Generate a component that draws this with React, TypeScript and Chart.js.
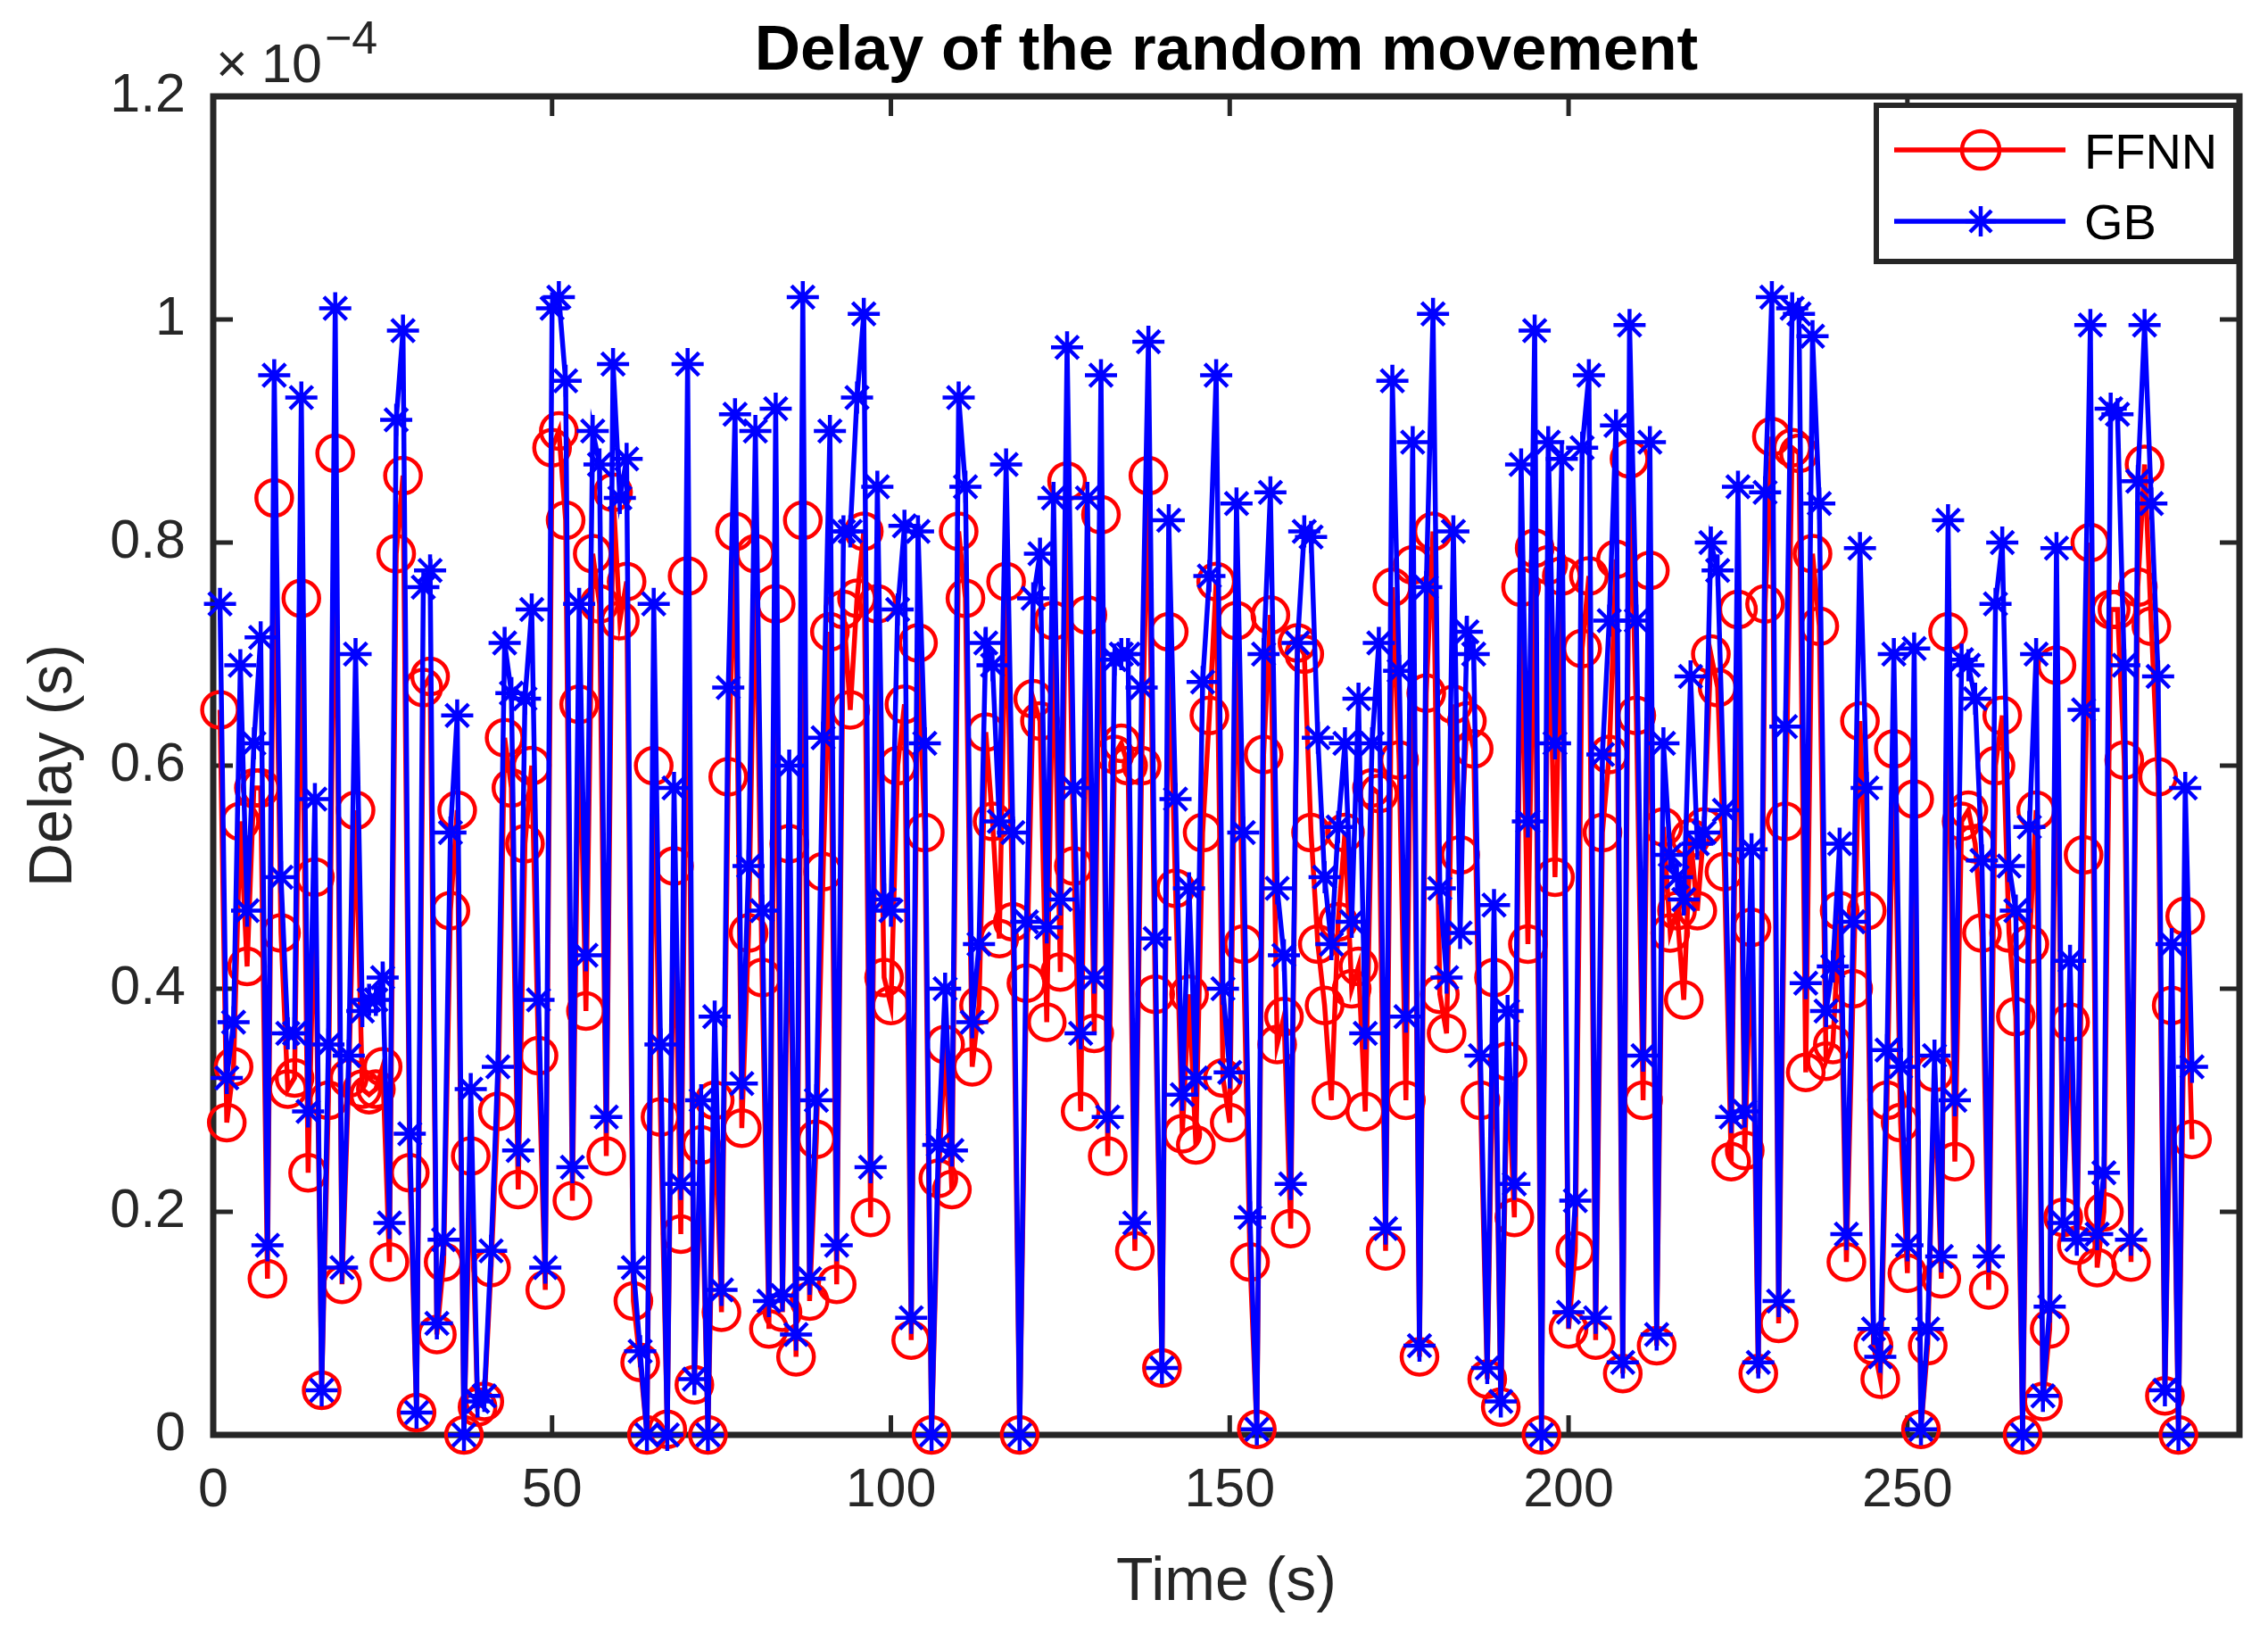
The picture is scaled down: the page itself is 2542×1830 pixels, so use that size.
import React, { useEffect, useRef } from 'react';
import { Chart, registerables } from 'chart.js';

Chart.register(...registerables);

// values are in units of 1e-4 s (the axis shows "x10^-4")
const X_TICKS = [0, 50, 100, 150, 200, 250];
const Y_TICKS = [0, 0.2, 0.4, 0.6, 0.8, 1, 1.2];
const TIME_MAX = 299;

const DELAY_FFNN = [
  0.65, 0.28, 0.33, 0.55, 0.42, 0.58, 0.58, 0.14, 0.84, 0.45,
  0.31, 0.32, 0.75, 0.235, 0.5, 0.04, 0.3, 0.88, 0.135, 0.32,
  0.56, 0.31, 0.305, 0.31, 0.33, 0.155, 0.79, 0.86, 0.235, 0.02,
  0.67, 0.68, 0.09, 0.155, 0.47, 0.56, 0, 0.25, 0.025, 0.03,
  0.15, 0.29, 0.625, 0.58, 0.22, 0.53, 0.6, 0.34, 0.13, 0.885,
  0.9, 0.82, 0.21, 0.655, 0.38, 0.79, 0.745, 0.25, 0.845, 0.73,
  0.765, 0.12, 0.065, 0, 0.6, 0.285, 0.005, 0.51, 0.18, 0.77,
  0.045, 0.26, 0, 0.3, 0.11, 0.59, 0.81, 0.275, 0.45, 0.79,
  0.41, 0.095, 0.745, 0.11, 0.53, 0.07, 0.82, 0.12, 0.265, 0.505,
  0.72, 0.135, 0.74, 0.65, 0.75, 0.81, 0.195, 0.745, 0.41, 0.385,
  0.6, 0.655, 0.085, 0.71, 0.54, 0, 0.23, 0.35, 0.22, 0.81,
  0.75, 0.33, 0.385, 0.63, 0.55, 0.445, 0.765, 0.46, 0, 0.405,
  0.66, 0.64, 0.37, 0.73, 0.415, 0.855, 0.51, 0.29, 0.735, 0.36,
  0.825, 0.25, 0.61, 0.62, 0.6, 0.165, 0.6, 0.86, 0.395, 0.06,
  0.72, 0.49, 0.27, 0.395, 0.26, 0.54, 0.645, 0.765, 0.32, 0.28,
  0.73, 0.44, 0.155, 0.005, 0.61, 0.735, 0.35, 0.375, 0.185, 0.71,
  0.7, 0.54, 0.44, 0.385, 0.3, 0.46, 0.54, 0.4, 0.42, 0.29,
  0.58, 0.575, 0.165, 0.76, 0.605, 0.3, 0.78, 0.07, 0.665, 0.81,
  0.395, 0.36, 0.655, 0.52, 0.64, 0.615, 0.3, 0.05, 0.41, 0.025,
  0.335, 0.195, 0.76, 0.44, 0.795, 0, 0.78, 0.5, 0.77, 0.095,
  0.165, 0.705, 0.77, 0.085, 0.54, 0.61, 0.785, 0.055, 0.875, 0.645,
  0.3, 0.775, 0.08, 0.545, 0.45, 0.47, 0.39, 0.535, 0.47, 0.545,
  0.7, 0.67, 0.505, 0.245, 0.74, 0.255, 0.455, 0.055, 0.745, 0.895,
  0.1, 0.55, 0.885, 0.88, 0.325, 0.79, 0.725, 0.335, 0.35, 0.47,
  0.155, 0.4, 0.64, 0.47, 0.08, 0.05, 0.3, 0.615, 0.28, 0.145,
  0.57, 0.005, 0.08, 0.325, 0.14, 0.72, 0.245, 0.55, 0.56, 0.53,
  0.45, 0.13, 0.6, 0.645, 0.45, 0.375, 0, 0.44, 0.56, 0.03,
  0.095, 0.69, 0.195, 0.37, 0.17, 0.52, 0.8, 0.15, 0.2, 0.74,
  0.74, 0.605, 0.155, 0.76, 0.87, 0.725, 0.59, 0.035, 0.385, 0,
  0.465, 0.265,
];

const DELAY_GB = [
  0.745, 0.32, 0.37, 0.69, 0.47, 0.62, 0.715, 0.17, 0.95, 0.5,
  0.36, 0.36, 0.93, 0.29, 0.57, 0.04, 0.35, 1.01, 0.15, 0.34,
  0.7, 0.38, 0.39, 0.39, 0.41, 0.19, 0.91, 0.99, 0.27, 0.02,
  0.76, 0.775, 0.1, 0.175, 0.54, 0.645, 0, 0.31, 0.03, 0.035,
  0.165, 0.33, 0.71, 0.665, 0.255, 0.66, 0.74, 0.39, 0.15, 1.01,
  1.02, 0.945, 0.24, 0.745, 0.43, 0.9, 0.87, 0.285, 0.96, 0.84,
  0.875, 0.15, 0.075, 0, 0.745, 0.35, 0, 0.58, 0.225, 0.96,
  0.05, 0.3, 0, 0.375, 0.13, 0.67, 0.915, 0.315, 0.51, 0.9,
  0.47, 0.12, 0.92, 0.125, 0.6, 0.09, 1.02, 0.14, 0.3, 0.625,
  0.9, 0.17, 0.81, 0.81, 0.93, 1.005, 0.24, 0.85, 0.48, 0.47,
  0.74, 0.815, 0.105, 0.81, 0.62, 0, 0.26, 0.4, 0.255, 0.93,
  0.85, 0.37, 0.44, 0.71, 0.69, 0.55, 0.87, 0.54, 0, 0.46,
  0.75, 0.79, 0.455, 0.84, 0.48, 0.975, 0.58, 0.36, 0.84, 0.41,
  0.95, 0.285, 0.695, 0.7, 0.7, 0.19, 0.67, 0.98, 0.445, 0.06,
  0.82, 0.57, 0.305, 0.49, 0.32, 0.675, 0.77, 0.95, 0.4, 0.325,
  0.835, 0.54, 0.195, 0.005, 0.7, 0.845, 0.49, 0.43, 0.225, 0.71,
  0.81, 0.805, 0.625, 0.5, 0.44, 0.545, 0.62, 0.46, 0.66, 0.36,
  0.62, 0.71, 0.185, 0.945, 0.685, 0.375, 0.89, 0.08, 0.76, 1.005,
  0.49, 0.41, 0.81, 0.45, 0.72, 0.7, 0.34, 0.06, 0.475, 0.03,
  0.38, 0.225, 0.87, 0.55, 0.99, 0, 0.89, 0.62, 0.875, 0.11,
  0.21, 0.885, 0.95, 0.105, 0.61, 0.73, 0.905, 0.065, 0.995, 0.73,
  0.34, 0.89, 0.09, 0.62, 0.52, 0.5, 0.48, 0.68, 0.53, 0.54,
  0.8, 0.775, 0.56, 0.285, 0.85, 0.29, 0.525, 0.065, 0.845, 1.02,
  0.12, 0.635, 1.01, 1.005, 0.405, 0.985, 0.835, 0.38, 0.42, 0.53,
  0.18, 0.46, 0.795, 0.58, 0.095, 0.07, 0.345, 0.7, 0.33, 0.17,
  0.705, 0.005, 0.095, 0.34, 0.16, 0.82, 0.3, 0.695, 0.69, 0.66,
  0.515, 0.16, 0.745, 0.8, 0.51, 0.47, 0, 0.545, 0.7, 0.035,
  0.115, 0.795, 0.19, 0.425, 0.175, 0.65, 0.995, 0.18, 0.235, 0.92,
  0.915, 0.69, 0.175, 0.855, 0.995, 0.835, 0.68, 0.04, 0.44, 0,
  0.58, 0.33,
];

const TIME = DELAY_GB.map((_, i) => i + 1);

const FONT = '"Liberation Sans", Arial, Helvetica, sans-serif';
const AXIS_COLOR = '#262626';
const RED = '#FF0000';
const BLUE = '#0000FF';

const W = 2542;
const H = 1830;

const framePlugin = {
  id: 'matlabFrame',
  beforeDatasetsDraw(chart: any) {
    const { ctx, chartArea: a, scales } = chart;
    ctx.save();
    ctx.strokeStyle = AXIS_COLOR;
    ctx.lineWidth = 5;
    const len = 22;
    X_TICKS.forEach((v) => {
      const px = scales.x.getPixelForValue(v);
      ctx.beginPath();
      ctx.moveTo(px, a.bottom);
      ctx.lineTo(px, a.bottom - len);
      ctx.moveTo(px, a.top);
      ctx.lineTo(px, a.top + len);
      ctx.stroke();
    });
    Y_TICKS.forEach((v) => {
      const py = scales.y.getPixelForValue(v);
      ctx.beginPath();
      ctx.moveTo(a.left, py);
      ctx.lineTo(a.left + len, py);
      ctx.moveTo(a.right, py);
      ctx.lineTo(a.right - len, py);
      ctx.stroke();
    });
    ctx.lineWidth = 7;
    ctx.strokeRect(a.left, a.top, a.right - a.left, a.bottom - a.top);
    ctx.restore();
  },
  afterDraw(chart: any) {
    const { ctx, chartArea: a } = chart;
    const cx = (a.left + a.right) / 2;
    const cy = (a.top + a.bottom) / 2;
    ctx.save();

    // title
    ctx.fillStyle = '#000';
    ctx.textAlign = 'center';
    ctx.textBaseline = 'alphabetic';
    ctx.font = `bold 71px ${FONT}`;
    ctx.fillText('Delay of the random movement', cx, 78);

    // axis labels
    ctx.fillStyle = AXIS_COLOR;
    ctx.font = `68px ${FONT}`;
    ctx.fillText('Time (s)', cx, 1793);
    ctx.save();
    ctx.translate(80, cy);
    ctx.rotate(-Math.PI / 2);
    ctx.fillText('Delay (s)', 0, 0);
    ctx.restore();

    // exponent
    ctx.textAlign = 'left';
    ctx.font = `61px ${FONT}`;
    ctx.fillText('\u00d7', 242, 92);
    ctx.fillText('10', 293, 92);
    ctx.font = `52px ${FONT}`;
    ctx.fillText('\u22124', 364, 60);

    // legend
    const lx = 2103, ly = 118, lw = 403, lh = 175;
    ctx.fillStyle = '#fff';
    ctx.fillRect(lx, ly, lw, lh);
    ctx.strokeStyle = AXIS_COLOR;
    ctx.lineWidth = 6;
    ctx.strokeRect(lx, ly, lw, lh);

    const rows = [
      { label: 'FFNN', color: RED, y: 168, base: 189, marker: 'circle' },
      { label: 'GB', color: BLUE, y: 248, base: 268, marker: 'star' },
    ];
    rows.forEach((r) => {
      ctx.strokeStyle = r.color;
      ctx.lineWidth = 5.5;
      ctx.beginPath();
      ctx.moveTo(2123, r.y);
      ctx.lineTo(2315, r.y);
      ctx.stroke();
      ctx.lineWidth = 4.5;
      ctx.beginPath();
      if (r.marker === 'circle') {
        ctx.arc(2220, r.y, 21, 0, Math.PI * 2);
      } else {
        const s = 17;
        for (let k = 0; k < 4; k++) {
          const ang = (k * Math.PI) / 4;
          ctx.moveTo(2220 - s * Math.cos(ang), r.y - s * Math.sin(ang));
          ctx.lineTo(2220 + s * Math.cos(ang), r.y + s * Math.sin(ang));
        }
      }
      ctx.stroke();
      ctx.fillStyle = '#000';
      ctx.font = `56px ${FONT}`;
      ctx.textAlign = 'left';
      ctx.fillText(r.label, 2336, r.base);
    });

    ctx.restore();
  },
};

const DelayChart = () => {
  const canvasRef = useRef<HTMLCanvasElement>(null);

  useEffect(() => {
    if (!canvasRef.current) return;
    const ctx = canvasRef.current.getContext('2d');
    if (!ctx) return;

    const chart = new Chart(ctx, {
      type: 'line',
      data: {
        datasets: [
          {
            label: 'FFNN',
            data: TIME.map((t, i) => ({ x: t, y: DELAY_FFNN[i] })),
            borderColor: RED,
            borderWidth: 5.5,
            pointStyle: 'circle',
            pointRadius: 20,
            pointBorderWidth: 4.5,
            pointBorderColor: RED,
            pointBackgroundColor: 'rgba(0,0,0,0)',
            tension: 0,
            clip: false,
            order: 1,
          },
          {
            label: 'GB',
            data: TIME.map((t, i) => ({ x: t, y: DELAY_GB[i] })),
            borderColor: BLUE,
            borderWidth: 5.5,
            pointStyle: 'star',
            pointRadius: 18,
            pointBorderWidth: 4.5,
            pointBorderColor: BLUE,
            pointBackgroundColor: BLUE,
            tension: 0,
            clip: false,
            order: 0,
          },
        ],
      },
      options: {
        animation: false,
        responsive: false,
        devicePixelRatio: 1,
        events: [],
        layout: { padding: { top: 108, right: 32, left: 0, bottom: 0 } },
        plugins: {
          legend: { display: false },
          title: { display: false },
          tooltip: { enabled: false },
        },
        scales: {
          x: {
            type: 'linear',
            min: 0,
            max: TIME_MAX,
            afterBuildTicks: (s: any) => {
              s.ticks = X_TICKS.map((v) => ({ value: v }));
            },
            afterFit: (s: any) => {
              s.height = H - 1608;
            },
            ticks: {
              font: { family: FONT, size: 61 },
              color: AXIS_COLOR,
              padding: 27,
              maxRotation: 0,
              autoSkip: false,
              callback: (v: any) => String(v),
            },
            grid: { display: false, drawTicks: false },
            border: { display: false },
          },
          y: {
            type: 'linear',
            min: 0,
            max: 1.2,
            afterBuildTicks: (s: any) => {
              s.ticks = Y_TICKS.map((v) => ({ value: v }));
            },
            afterFit: (s: any) => {
              s.width = 239;
            },
            ticks: {
              font: { family: FONT, size: 61 },
              color: AXIS_COLOR,
              padding: 31,
              autoSkip: false,
              callback: (v: any) => String(Math.round(Number(v) * 10) / 10),
            },
            grid: { display: false, drawTicks: false },
            border: { display: false },
          },
        },
      },
      plugins: [framePlugin],
    });

    return () => {
      chart.destroy();
    };
  }, []);

  return <canvas ref={canvasRef} width={W} height={H} />;
};

export default function App() {
  return (
    <div
      style={{
        position: 'fixed',
        left: 0,
        top: 0,
        width: W,
        height: H,
        background: '#fff',
        overflow: 'hidden',
      }}
    >
      <DelayChart />
    </div>
  );
}
